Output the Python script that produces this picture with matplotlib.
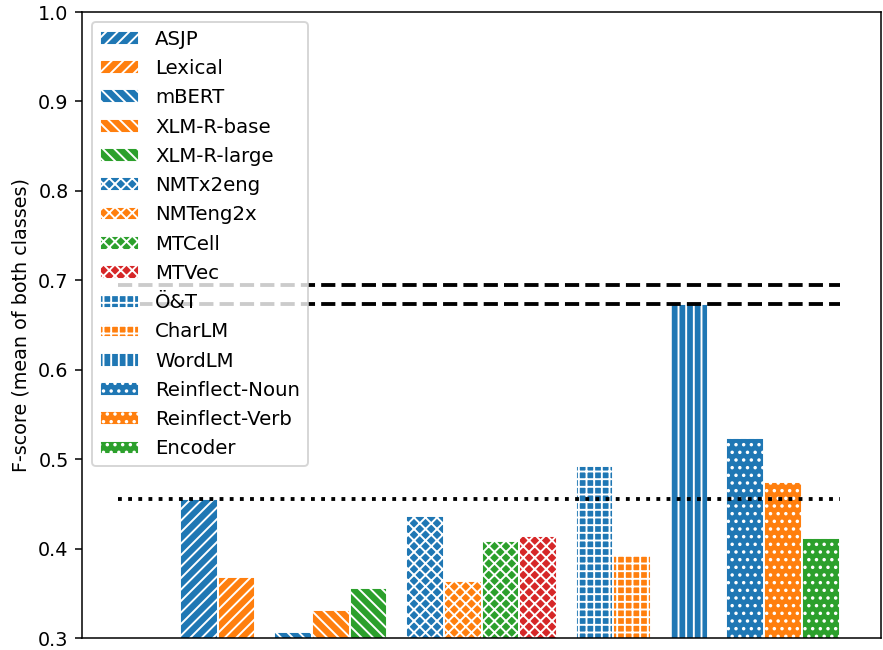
import numpy as np
import matplotlib
matplotlib.use('Agg')
import matplotlib.pyplot as plt

# dados
labels = ['ASJP', 'Lexical', 'mBERT', 'XLM-R-base', 'XLM-R-large',
          'NMTx2eng', 'NMTeng2x', 'MTCell', 'MTVec',
          'Ö&T', 'CharLM', 'WordLM',
          'Reinflect-Noun', 'Reinflect-Verb', 'Encoder']
scores = [0.455, 0.368, 0.307, 0.331, 0.356,
          0.436, 0.364, 0.408, 0.414,
          0.492, 0.393, 0.673,
          0.524, 0.474, 0.412]
positions = [0, 1, 2.5, 3.5, 4.5,
             6, 7, 8, 9,
             10.5, 11.5, 13,
             14.5, 15.5, 16.5]
colors = ['C0', 'C1', 'C0', 'C1', 'C2',
          'C0', 'C1', 'C2', 'C3',
          'C0', 'C1', 'C0',
          'C0', 'C1', 'C2']
hatches = ['////', '////', '\\\\\\\\', '\\\\\\\\', '\\\\\\\\',
           'xxxx', 'xxxx', 'xxxx', 'xxxx',
           '+++', '+++', '|||',
           '...', '...', '...']
dashed_refs = [0.695, 0.673]
dotted_ref = 0.455

fig = plt.figure(figsize=(883 / 138, 650 / 138), dpi=138)
ax = fig.add_axes([82 / 883, 12 / 650, (881 - 82) / 883, (638 - 12) / 650])

for x, s, c, h, lab in zip(positions, scores, colors, hatches, labels):
    ax.bar(x, s, width=1.0, color=c, edgecolor='white', hatch=h, label=lab)

x0, x1 = -2.15, 17.0
for y in dashed_refs:
    ax.plot([x0, x1], [y, y], 'k--', lw=2)
ax.plot([x0, x1], [dotted_ref, dotted_ref], 'k:', lw=2)

ax.set_xlim(-3.1, 18.1)
ax.set_ylim(0.3, 1.0)
ax.set_xticks([])
ax.set_ylabel('F-score (mean of both classes)')

handles, labs = ax.get_legend_handles_labels()
ax.legend(handles[:len(labels)], labs[:len(labels)], loc='upper left',
          fontsize=10.3, labelspacing=0.52)

fig.savefig('out.png', dpi=138)
